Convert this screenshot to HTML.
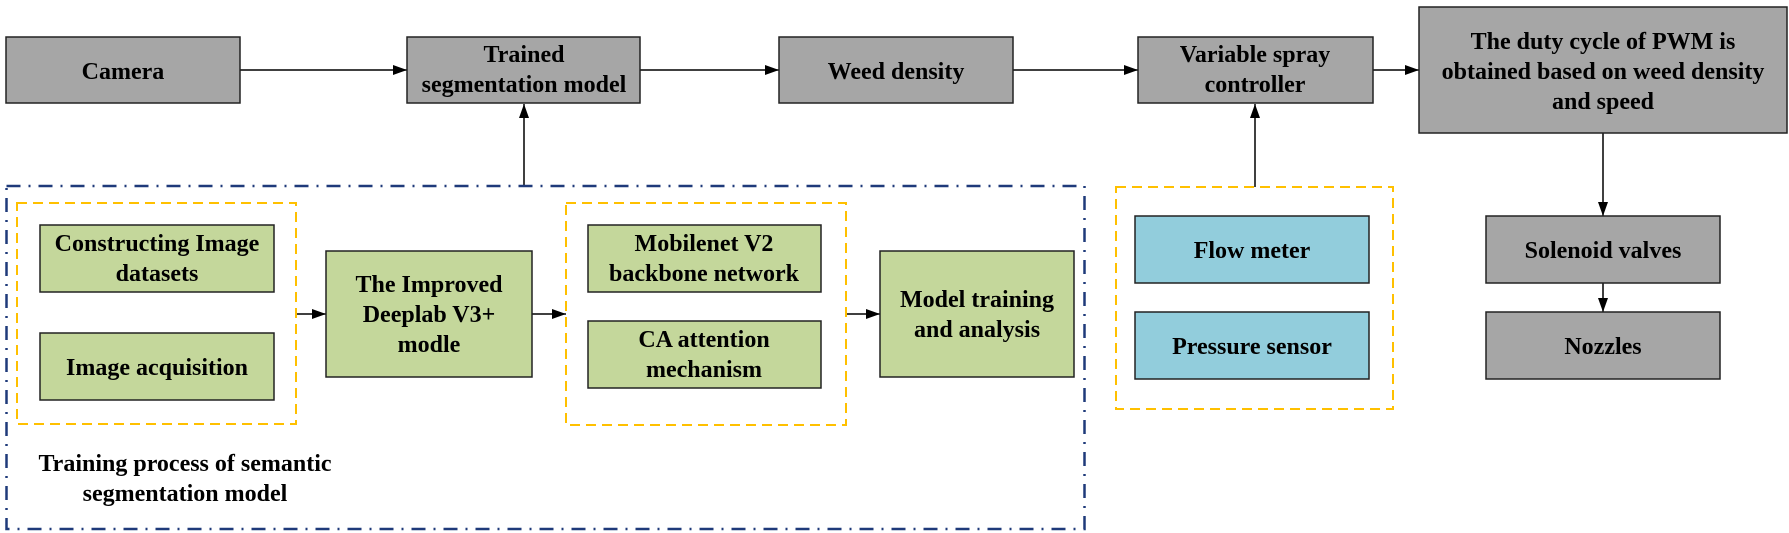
<!DOCTYPE html>
<html><head><meta charset="utf-8"><style>
html,body{margin:0;padding:0;background:#fff;}
svg{display:block;}
text{font-family:"Liberation Serif",serif;font-weight:bold;font-size:24px;fill:#000;text-anchor:middle;}
</style></head><body>
<svg width="1789" height="533" viewBox="0 0 1789 533" xmlns="http://www.w3.org/2000/svg">
<defs>
<marker id="a" markerWidth="14" markerHeight="10" refX="14" refY="5" orient="auto" markerUnits="userSpaceOnUse">
<path d="M0,0 L14,5 L0,10 Z" fill="#000"/></marker>
</defs>
<g stroke="#000" stroke-width="1.5" fill="none">
<line x1="240" y1="70" x2="407" y2="70" marker-end="url(#a)"/>
<line x1="640" y1="70" x2="779" y2="70" marker-end="url(#a)"/>
<line x1="1013" y1="70" x2="1138" y2="70" marker-end="url(#a)"/>
<line x1="1373" y1="70" x2="1419" y2="70" marker-end="url(#a)"/>
<line x1="524" y1="186" x2="524" y2="104" marker-end="url(#a)"/>
<line x1="1255" y1="187" x2="1255" y2="104" marker-end="url(#a)"/>
<line x1="1603" y1="133" x2="1603" y2="216" marker-end="url(#a)"/>
<line x1="1603" y1="283" x2="1603" y2="312" marker-end="url(#a)"/>
<line x1="296" y1="314" x2="326" y2="314" marker-end="url(#a)"/>
<line x1="532" y1="314" x2="566" y2="314" marker-end="url(#a)"/>
<line x1="846" y1="314" x2="880" y2="314" marker-end="url(#a)"/>
</g>
<rect x="6.5" y="186" width="1078" height="343" fill="none" stroke="#1f3a7a" stroke-width="2.5" stroke-dasharray="14,8,2,8"/>
<g fill="none" stroke="#ffc000" stroke-width="2" stroke-dasharray="10,6">
<rect x="17" y="203" width="279" height="221"/>
<rect x="566" y="203" width="280" height="222"/>
<rect x="1116" y="187" width="277" height="222"/>
</g>
<g stroke="#222" stroke-width="1.5">
<rect x="6" y="37" width="234" height="66" fill="#a6a6a6"/>
<rect x="407" y="37" width="233" height="66" fill="#a6a6a6"/>
<rect x="779" y="37" width="234" height="66" fill="#a6a6a6"/>
<rect x="1138" y="37" width="235" height="66" fill="#a6a6a6"/>
<rect x="1419" y="7" width="368" height="126" fill="#a6a6a6"/>
<rect x="1486" y="216" width="234" height="67" fill="#a6a6a6"/>
<rect x="1486" y="312" width="234" height="67" fill="#a6a6a6"/>
<rect x="1135" y="216" width="234" height="67" fill="#92cddc"/>
<rect x="1135" y="312" width="234" height="67" fill="#92cddc"/>
<rect x="40" y="225" width="234" height="67" fill="#c4d79b"/>
<rect x="40" y="333" width="234" height="67" fill="#c4d79b"/>
<rect x="326" y="251" width="206" height="126" fill="#c4d79b"/>
<rect x="588" y="225" width="233" height="67" fill="#c4d79b"/>
<rect x="588" y="321" width="233" height="67" fill="#c4d79b"/>
<rect x="880" y="251" width="194" height="126" fill="#c4d79b"/>
</g>
<text x="123" y="79">Camera</text>
<text x="524" y="62">Trained</text>
<text x="524" y="92">segmentation model</text>
<text x="896" y="79">Weed density</text>
<text x="1255" y="62">Variable spray</text>
<text x="1255" y="92">controller</text>
<text x="1603" y="49">The duty cycle of PWM  is</text>
<text x="1603" y="79">obtained based on weed density</text>
<text x="1603" y="109">and speed</text>
<text x="1603" y="258">Solenoid valves</text>
<text x="1603" y="354">Nozzles</text>
<text x="1252" y="258">Flow meter</text>
<text x="1252" y="354">Pressure sensor</text>
<text x="157" y="251">Constructing Image</text>
<text x="157" y="281">datasets</text>
<text x="157" y="375">Image acquisition</text>
<text x="429" y="292">The Improved</text>
<text x="429" y="322">Deeplab V3+</text>
<text x="429" y="352">modle</text>
<text x="704" y="251">Mobilenet V2</text>
<text x="704" y="281">backbone network</text>
<text x="704" y="347">CA attention</text>
<text x="704" y="377">mechanism</text>
<text x="977" y="307">Model training</text>
<text x="977" y="337">and analysis</text>
<text x="185" y="471">Training process of semantic</text>
<text x="185" y="501">segmentation model</text>
</svg>
</body></html>
